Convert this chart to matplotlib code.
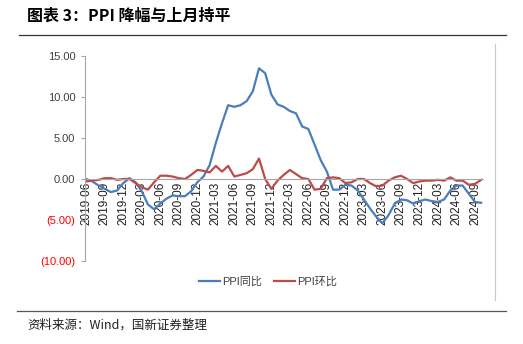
import numpy as np
import matplotlib.pyplot as plt

plt.rcParams['font.family'] = ['Liberation Sans', 'Noto Sans CJK SC', 'DejaVu Sans']

# monthly, 2019-06 .. 2024-10
months = []
for y in range(2019, 2025):
    for m in range(1, 13):
        if (y == 2019 and m < 6) or (y == 2024 and m > 10):
            continue
        months.append(f"{y}-{m:02d}")

ppi_yoy = [0.0, -0.3, -0.8, -1.2, -1.6, -1.4, -0.5,
           0.1, -0.4, -1.5, -3.1, -3.7, -3.0, -2.4, -2.0, -2.1, -2.1, -1.5, -0.4,
           0.3, 1.7, 4.4, 6.8, 9.0, 8.8, 9.0, 9.5, 10.7, 13.5, 12.9, 10.3,
           9.1, 8.8, 8.3, 8.0, 6.4, 6.1, 4.2, 2.3, 0.9, -1.3, -1.3, -0.7,
           -0.8, -1.4, -2.5, -3.6, -4.6, -5.4, -4.4, -3.0, -2.5, -2.6, -3.0, -2.7,
           -2.5, -2.7, -2.8, -2.5, -1.4, -0.8, -0.8, -1.8, -2.8, -2.9]
ppi_mom = [-0.3, -0.2, -0.1, 0.1, 0.1, -0.1, 0.0,
           0.0, -0.5, -1.0, -1.3, -0.4, 0.4, 0.4, 0.3, 0.1, 0.0, 0.5, 1.1,
           1.0, 0.8, 1.6, 0.9, 1.6, 0.3, 0.5, 0.7, 1.2, 2.5, 0.0, -1.2,
           -0.2, 0.5, 1.1, 0.6, 0.1, 0.0, -1.3, -1.2, 0.1, 0.2, 0.1, -0.5,
           -0.4, 0.0, 0.0, -0.5, -0.9, -0.8, -0.2, 0.2, 0.4, 0.0, -0.5, -0.3,
           -0.2, -0.2, -0.1, -0.2, 0.2, -0.2, -0.2, -0.7, -0.6, -0.1]
yticks = [15, 10, 5, 0, -5, -10]
ytick_labels = ['15.00', '10.00', '5.00', '0.00', '(5.00)', '(10.00)']

W, H = 523, 344
fig = plt.figure(figsize=(W / 100, H / 100), dpi=100)
ax = fig.add_axes([85 / W, 1 - 261 / H, (483 - 85) / W, (261 - 56) / H])

# x axis crosses at 0 (do this first, it resets the ticks)
for s in ['top', 'right']:
    ax.spines[s].set_visible(False)
ax.spines['bottom'].set_position(('data', 0))
ax.spines['bottom'].set_color('#A6A6A6')
ax.spines['left'].set_color('#A6A6A6')

x = np.arange(len(months))
ax.plot(x, ppi_yoy, color='#4A7EBB', lw=1.6, label='PPI同比')
ax.plot(x, ppi_mom, color='#BE4B48', lw=1.6, label='PPI环比')

ax.set_xlim(-0.2, 64.3)
ax.set_ylim(-10, 15)
ax.set_yticks(yticks)
ax.set_yticklabels(ytick_labels, fontsize=8)
for lab, v in zip(ax.get_yticklabels(), yticks):
    lab.set_color('#FF0000' if v < 0 else '#404040')

ax.set_xticks(x[::3])
ax.set_xticklabels(months[::3], rotation=90, fontsize=8.5, color='#202020')

ax.tick_params(axis='y', length=3, color='#A6A6A6', pad=4)
ax.tick_params(axis='x', length=0, pad=2)

fig.legend(loc='center', bbox_to_anchor=(268 / W, 1 - 282 / H), ncol=2,
           frameon=False, fontsize=8, handlelength=1.9, columnspacing=1.0,
           handletextpad=0.2, labelcolor='#404040')

# title, rules and source
fig.text(27 / W, 1 - 16 / H, '图表 3：PPI 降幅与上月持平', fontsize=11.5,
         fontweight='bold', style='italic', va='center',
         family=['Noto Sans CJK SC', 'DejaVu Sans'])
fig.add_artist(plt.Line2D([19 / W, 506 / W], [1 - 35 / H] * 2, color='#333333', lw=0.9))
fig.add_artist(plt.Line2D([17 / W, 506 / W], [1 - 311 / H] * 2, color='#555555', lw=0.9))
fig.add_artist(plt.Line2D([495 / W] * 2, [1 - 44 / H, 1 - 300 / H], color='#C8C8C8', lw=0.8))
fig.text(27 / W, 1 - 325 / H, '资料来源：Wind，国新证券整理', fontsize=9, va='center',
         color='#202020', family=['Noto Sans CJK SC', 'DejaVu Sans'])

fig.savefig('out.png', dpi=100)
